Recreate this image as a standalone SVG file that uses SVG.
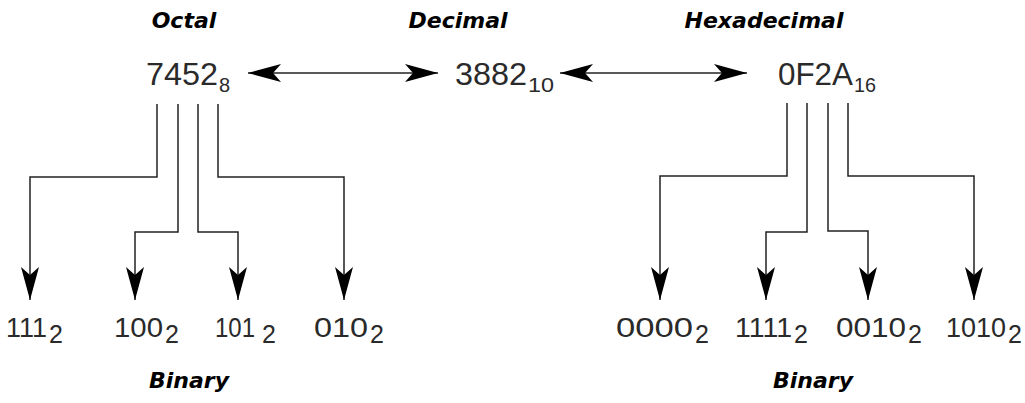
<svg xmlns="http://www.w3.org/2000/svg" width="1025" height="403" viewBox="0 0 1025 403">
<style>
.title{font-family:"DejaVu Sans",Verdana,sans-serif;font-weight:bold;font-style:italic;font-size:22px;fill:#000;text-anchor:middle}
.num{font-family:"Liberation Sans",Arial,sans-serif;fill:#2a2a2a}
.big{font-size:31px}
.bs{font-size:20px}
.mid{font-size:28px}
.ms{font-size:25px}
.conn{fill:none;stroke:#222;stroke-width:1.5}
</style>
<defs>
<marker id="ah" markerUnits="userSpaceOnUse" viewBox="-34 -10 35 20" refX="0" refY="0" markerWidth="35" markerHeight="20" orient="auto-start-reverse">
<path d="M0,0 L-33,-9 L-25,0 L-33,9 Z" fill="#000"/>
</marker>
</defs>
<rect width="1025" height="403" fill="#fff"/>
<g id="titles">
<text class="title" x="184" y="28">Octal</text>
<text class="title" x="458" y="28">Decimal</text>
<text class="title" x="764" y="28">Hexadecimal</text>
<text class="title" x="189" y="388">Binary</text>
<text class="title" x="813" y="388">Binary</text>
</g>
<g id="connectors">
<line class="conn" x1="248" y1="73" x2="438" y2="73" marker-start="url(#ah)" marker-end="url(#ah)"/>
<line class="conn" x1="560" y1="73" x2="747" y2="73" marker-start="url(#ah)" marker-end="url(#ah)"/>
<path class="conn" d="M157,104 V177 H30 V300" marker-end="url(#ah)"/>
<path class="conn" d="M178,104 V232 H135 V300" marker-end="url(#ah)"/>
<path class="conn" d="M198,104 V232 H238 V300" marker-end="url(#ah)"/>
<path class="conn" d="M218,104 V177 H344 V300" marker-end="url(#ah)"/>
<path class="conn" d="M787,103 V176 H660 V300" marker-end="url(#ah)"/>
<path class="conn" d="M807,103 V232 H766 V300" marker-end="url(#ah)"/>
<path class="conn" d="M828,103 V231 H868 V300" marker-end="url(#ah)"/>
<path class="conn" d="M848,103 V176 H974 V300" marker-end="url(#ah)"/>
</g>
<g id="octal">
<text class="num big" x="146" y="85" textLength="72" lengthAdjust="spacingAndGlyphs">7452</text>
<text class="num bs" x="219" y="92">8</text>
</g>
<g id="decimal">
<text class="num big" x="455" y="85" textLength="72" lengthAdjust="spacingAndGlyphs">3882</text>
<text class="num bs" x="528" y="92" textLength="26" lengthAdjust="spacingAndGlyphs">10</text>
</g>
<g id="hex">
<text class="num big" x="778" y="85" textLength="75" lengthAdjust="spacingAndGlyphs">0F2A</text>
<text class="num bs" x="854" y="92" textLength="22" lengthAdjust="spacingAndGlyphs">16</text>
</g>
<g id="bin-o1">
<text class="num mid" x="6" y="337" textLength="41" lengthAdjust="spacingAndGlyphs">111</text>
<text class="num ms" x="49" y="343">2</text>
</g>
<g id="bin-o2">
<text class="num mid" x="114" y="337" textLength="49" lengthAdjust="spacingAndGlyphs">100</text>
<text class="num ms" x="165" y="343">2</text>
</g>
<g id="bin-o3">
<text class="num mid" x="215" y="337" textLength="40" lengthAdjust="spacingAndGlyphs">101</text>
<text class="num ms" x="262" y="343">2</text>
</g>
<g id="bin-o4">
<text class="num mid" x="314" y="337" textLength="54" lengthAdjust="spacingAndGlyphs">010</text>
<text class="num ms" x="370" y="343">2</text>
</g>
<g id="bin-h1">
<text class="num mid" x="616" y="337" textLength="77" lengthAdjust="spacingAndGlyphs">0000</text>
<text class="num ms" x="695" y="343">2</text>
</g>
<g id="bin-h2">
<text class="num mid" x="735" y="337" textLength="57" lengthAdjust="spacingAndGlyphs">1111</text>
<text class="num ms" x="794" y="343">2</text>
</g>
<g id="bin-h3">
<text class="num mid" x="836" y="337" textLength="70" lengthAdjust="spacingAndGlyphs">0010</text>
<text class="num ms" x="908" y="343">2</text>
</g>
<g id="bin-h4">
<text class="num mid" x="946" y="337" textLength="60" lengthAdjust="spacingAndGlyphs">1010</text>
<text class="num ms" x="1008" y="343">2</text>
</g>
</svg>
